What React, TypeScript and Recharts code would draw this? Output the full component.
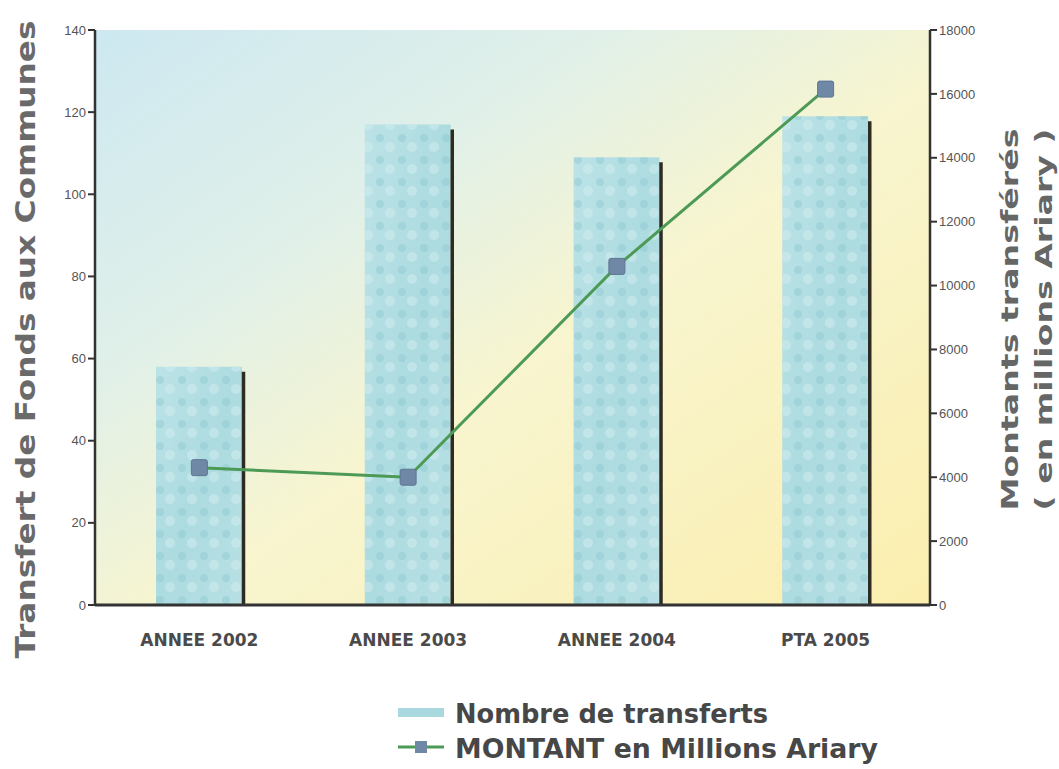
import React from "react";
import { ComposedChart, Bar, Line, XAxis, YAxis, Legend, CartesianGrid } from "recharts";

const categories = ["ANNEE 2002", "ANNEE 2003", "ANNEE 2004", "PTA 2005"];
const nombreTransferts = [58, 117, 109, 119];
const montants = [4300, 4000, 10600, 16150];
const leftTicks = [0, 20, 40, 60, 80, 100, 120, 140];
const rightTicks = [0, 2000, 4000, 6000, 8000, 10000, 12000, 14000, 16000, 18000];

const data = categories.map((c, i) => ({ cat: c, nombre: nombreTransferts[i], montant: montants[i] }));

const tickStyle = { fontFamily: "Liberation Sans, Arial, sans-serif", fontSize: 13, fill: "#555" };

const BarShape = (props: any) => {
  const { x, y, width, height } = props;
  return (
    <g>
      <rect x={x} y={y} width={width} height={height} fill="url(#barFill)" />
      <rect x={x} y={y} width={width} height={height} fill="url(#barDots)" />
      <line x1={x + width + 1.5} y1={y + 5} x2={x + width + 1.5} y2={y + height} stroke="#2e2c22" strokeWidth={3.5} />
    </g>
  );
};

const SquareDot = (props: any) => {
  const { cx, cy } = props;
  return <rect x={cx - 8} y={cy - 8} width={16} height={16} rx={2} fill="#6f88a6" stroke="#5d7594" strokeWidth={1} />;
};

const XTick = (props: any) => {
  const { x, y, payload } = props;
  return (
    <text x={x} y={y} dy={33} textAnchor="middle"
      style={{ fontFamily: "DejaVu Sans, Arial, sans-serif", fontWeight: "bold", fontSize: 17, fill: "#4a4a4a" }}>
      {payload.value}
    </text>
  );
};

const LeftTitle = (props: any) => {
  const vb = props.viewBox;
  const cx = vb.x - 10;
  const cy = vb.y + vb.height / 2 + 22;
  return (
    <text x={cx} y={cy} transform={`rotate(-90 ${cx} ${cy})`} textAnchor="middle" dominantBaseline="central"
      textLength={638} lengthAdjust="spacingAndGlyphs"
      style={{ fontFamily: "DejaVu Sans, Arial, sans-serif", fontWeight: "bold", fontSize: 27, fill: "#6a6a6a" }}>
      Transfert de Fonds aux Communes
    </text>
  );
};

const RightTitle = (props: any) => {
  const vb = props.viewBox;
  const cy = vb.y + vb.height / 2 + 2;
  const x1 = vb.x + 80;
  const x2 = vb.x + 114;
  const st = { fontFamily: "DejaVu Sans, Arial, sans-serif", fontWeight: "bold" as const, fontSize: 23, fill: "#666" };
  return (
    <g>
      <text x={x1} y={cy} transform={`rotate(-90 ${x1} ${cy})`} textAnchor="middle" dominantBaseline="central"
        textLength={382} lengthAdjust="spacingAndGlyphs" style={st}>
        Montants transférés
      </text>
      <text x={x2} y={cy} transform={`rotate(-90 ${x2} ${cy})`} textAnchor="middle" dominantBaseline="central"
        textLength={382} lengthAdjust="spacingAndGlyphs" style={st}>
        ( en millions Ariary )
      </text>
    </g>
  );
};

const renderLegend = () => {
  const st = { fontFamily: "DejaVu Sans, Arial, sans-serif", fontWeight: "bold" as const, fontSize: 27, fill: "#474747" };
  return (
    <svg width={500} height={80}>
      <rect x={0} y={16} width={46} height={9} fill="#a9d8de" />
      <text x={57} y={31} textLength={313} lengthAdjust="spacingAndGlyphs" style={st}>Nombre de transferts</text>
      <line x1={0} y1={55} x2={46} y2={55} stroke="#4c9a55" strokeWidth={3} />
      <rect x={17} y={49} width={12} height={12} fill="#6f88a6" />
      <text x={57} y={66} textLength={423} lengthAdjust="spacingAndGlyphs" style={st}>MONTANT en Millions Ariary</text>
    </svg>
  );
};

export default function App() {
  return (
    <div style={{ position: "absolute", left: 0, top: 0, width: 1059, height: 769, background: "#fff" }}>
      <ComposedChart width={1059} height={769} data={data} margin={{ top: 30, right: 29, left: 35, bottom: 44 }}>
        <defs>
          <linearGradient id="bgGrad" x1="0" y1="0" x2="1" y2="1">
            <stop offset="0%" stopColor="#cde8f1" />
            <stop offset="30%" stopColor="#e0f0e9" />
            <stop offset="55%" stopColor="#f8f5cf" />
            <stop offset="100%" stopColor="#fbeeae" />
          </linearGradient>
          <linearGradient id="barFill" x1="0" y1="0" x2="1" y2="1">
            <stop offset="0%" stopColor="#bce3e7" />
            <stop offset="50%" stopColor="#acdbe0" />
            <stop offset="100%" stopColor="#b8e0e4" />
          </linearGradient>
          <pattern id="barDots" width="22" height="22" patternUnits="userSpaceOnUse">
            <circle cx="6" cy="6" r="4" fill="#8fc9d0" opacity="0.45" />
            <circle cx="16" cy="15" r="5" fill="#d4eef0" opacity="0.5" />
          </pattern>
        </defs>
        <CartesianGrid fill="url(#bgGrad)" stroke="none" horizontal={false} vertical={false} />
        <XAxis dataKey="cat" tickLine={false} axisLine={{ stroke: "#333", strokeWidth: 3 }}
          tick={XTick} height={40} />
        <YAxis yAxisId="left" domain={[0, 140]} ticks={leftTicks} interval={0} width={60}
          axisLine={{ stroke: "#333", strokeWidth: 2.5 }} tickLine={{ stroke: "#333", strokeWidth: 2 }} tickSize={7}
          tick={tickStyle} label={{ content: LeftTitle }} />
        <YAxis yAxisId="right" orientation="right" domain={[0, 18000]} ticks={rightTicks} interval={0} width={100}
          axisLine={{ stroke: "#333", strokeWidth: 2.5 }} tickLine={{ stroke: "#333", strokeWidth: 2 }} tickSize={7}
          tick={tickStyle} label={{ content: RightTitle }} />
        <Bar yAxisId="left" dataKey="nombre" shape={BarShape} isAnimationActive={false} barSize={86} />
        <Line yAxisId="right" dataKey="montant" stroke="#4c9a55" strokeWidth={3} dot={SquareDot} activeDot={false} isAnimationActive={false} />
        <Legend layout="horizontal" verticalAlign="bottom" align="left" content={renderLegend}
          wrapperStyle={{ left: 398, top: 692, width: 500, height: 80 }} />
      </ComposedChart>
    </div>
  );
}
